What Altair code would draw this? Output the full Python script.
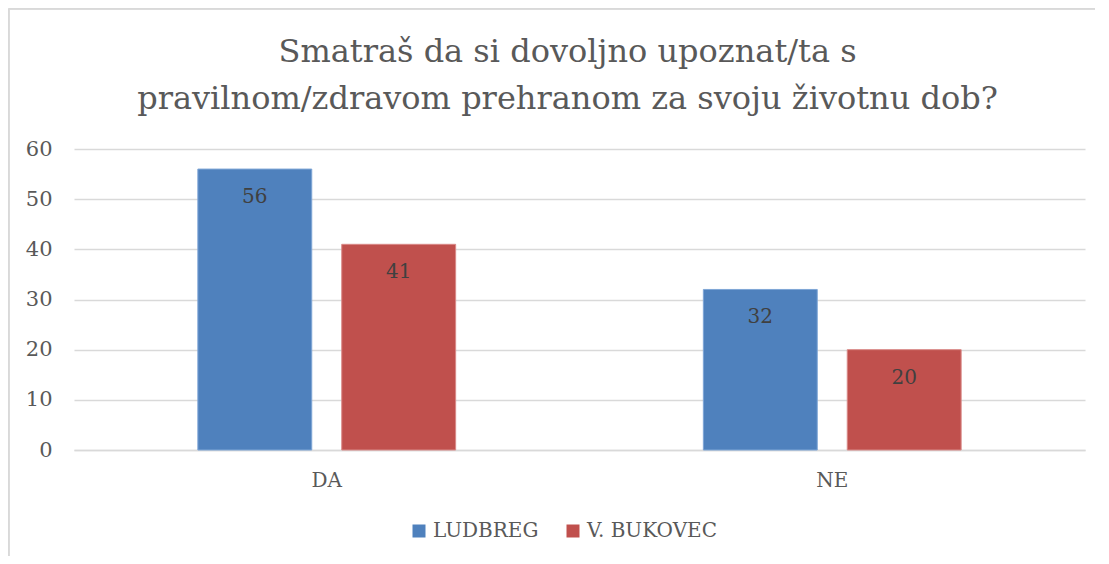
import altair as alt
import pandas as pd

categories = ["DA", "NE"]
series = ["LUDBREG", "V. BUKOVEC"]
ludbreg = [56, 32]
bukovec = [41, 20]
colors = ["#4F81BD", "#C0504D"]
strokes = ["#7FA6D6", "#D98A88"]
title_lines = ["Smatraš da si dovoljno upoznat/ta s",
               "pravilnom/zdravom prehranom za svoju životnu dob?"]

rows = []
for i, c in enumerate(categories):
    rows.append({"cat": c, "series": series[0], "value": ludbreg[i]})
    rows.append({"cat": c, "series": series[1], "value": bukovec[i]})
df = pd.DataFrame(rows)

FONT = "DejaVu Serif"

x = alt.X("cat:N", sort=categories, title=None,
          scale=alt.Scale(paddingInner=0.49, paddingOuter=0.245),
          axis=alt.Axis(labelAngle=0, labelFont=FONT, labelFontSize=20,
                        labelColor="#595959", ticks=False, domainColor="#D9D9D9",
                        domainWidth=1.5, labelPadding=20))
xo = alt.XOffset("series:N", sort=series,
                 scale=alt.Scale(paddingInner=0.2083, paddingOuter=0))

bars = alt.Chart(df).mark_bar(strokeWidth=1).encode(
    x=x, xOffset=xo,
    y=alt.Y("value:Q", title=None,
            scale=alt.Scale(domain=[0, 60]),
            axis=alt.Axis(values=[0, 10, 20, 30, 40, 50, 60], labelFont=FONT,
                          labelFontSize=21, labelColor="#595959", ticks=False,
                          domain=False, gridColor="#D9D9D9", gridWidth=1.5,
                          labelPadding=22)),
    color=alt.Color("series:N", sort=series,
                    scale=alt.Scale(domain=series, range=colors),
                    legend=alt.Legend(title=None, orient="none", direction="horizontal",
                                      legendX=335, legendY=372, symbolType="square",
                                      symbolSize=169, symbolStrokeWidth=0,
                                      labelFont=FONT, labelFontSize=20,
                                      labelColor="#595959", columnPadding=24,
                                      labelOffset=4)),
    stroke=alt.Stroke("series:N", sort=series,
                      scale=alt.Scale(domain=series, range=strokes), legend=None),
)

labels = alt.Chart(df).mark_text(font=FONT, fontSize=20, color="#404040",
                                 baseline="middle", dy=28).encode(
    x=alt.X("cat:N", sort=categories), xOffset=alt.XOffset("series:N", sort=series),
    y="value:Q", text="value:Q")

frame_left = alt.Chart(df).mark_rule(color="#D9D9D9", strokeWidth=1.5).encode(
    x=alt.value(-65.25), y=alt.value(-140.25), y2=alt.value(420))
frame_top = alt.Chart(df).mark_rule(color="#D9D9D9", strokeWidth=1.5).encode(
    x=alt.value(-65.25), x2=alt.value(1040), y=alt.value(-140.25))

chart = alt.layer(frame_left, frame_top, bars, labels).properties(
    width=1011, height=301,
    padding={"left": 66, "top": 141, "right": 10, "bottom": 106},
    autosize=alt.AutoSizeParams(type="none"),
    background="white",
    title=alt.TitleParams(title_lines, font=FONT, fontSize=32, fontWeight="normal",
                          color="#595959", anchor="middle", lineHeight=47,
                          offset=-108, dx=-12),
).configure_view(stroke=None)

chart.save("out.html", embed_options={"renderer": "svg", "actions": False})
